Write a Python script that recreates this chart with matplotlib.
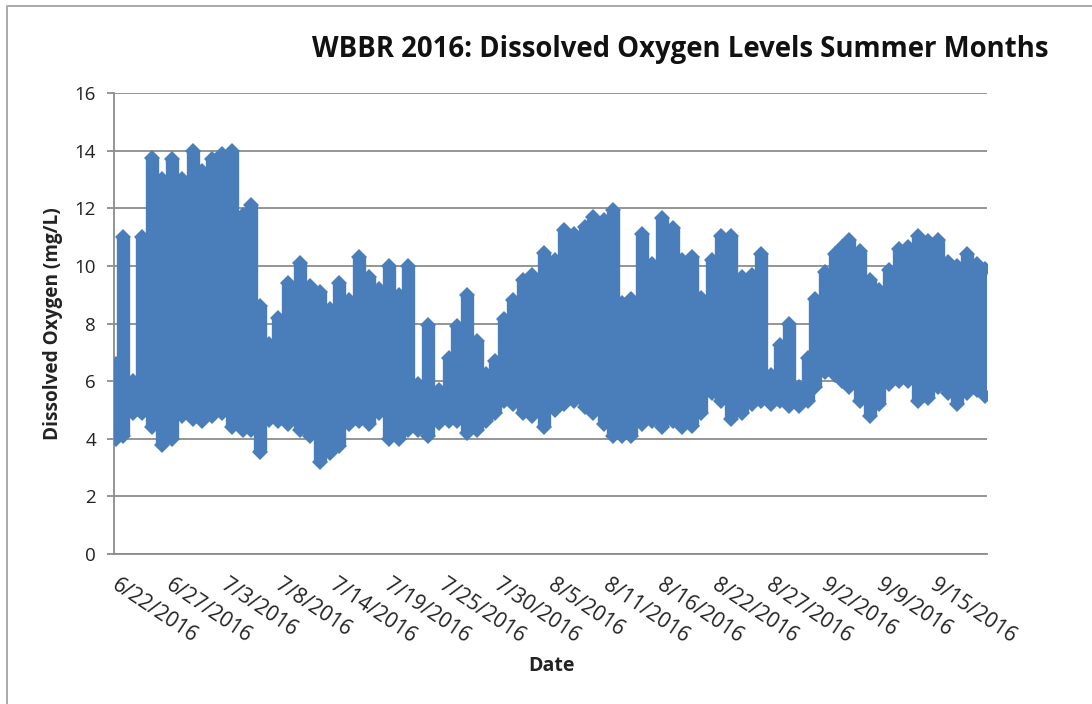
import matplotlib
matplotlib.use("Agg")
import matplotlib.pyplot as plt
from matplotlib.lines import Line2D
import numpy as np

# days since 6/22/2016, daily high and low readings (mg/L)
days = [0, 0.7, 1.7, 2.5, 3.5, 4.5, 5.5, 6.5, 7.5, 8.4, 9.4, 10.4, 11.4, 12.4, 13.2, 14.1, 15.0, 15.9, 16.9,
        18.0, 19.0, 20.0, 21.0, 21.9, 22.8, 23.8, 24.8, 25.8, 26.8, 27.7, 28.6, 29.6, 30.6, 31.7, 32.6, 33.4,
        34.4, 35.4, 36.3, 37.2, 38.0, 38.9, 39.9, 40.8, 42.0, 43.0, 43.9, 44.9, 46.0, 46.8, 47.8, 48.7, 49.6,
        50.5, 51.6, 52.6, 53.5, 54.6, 55.5, 56.5, 57.4, 58.4, 59.3, 60.3, 61.4, 62.4, 63.2, 64.2, 65.1, 66.0,
        67.0, 67.8, 68.5, 69.5, 70.5, 71.2, 71.9, 72.9, 73.9, 74.8, 75.8, 76.8, 77.7, 78.6, 79.6, 80.6, 81.6, 82.5,
        83.4, 84.4, 85.2]
high = [6.6, 11.0, 6.0, 11.0, 13.75, 13.0, 13.7, 13.0, 14.0, 13.3, 13.7, 13.9, 14.0, 11.75, 12.1, 8.6, 7.3, 8.2, 9.4,
        10.1, 9.3, 9.1, 8.5, 9.4, 8.8, 10.3, 9.6, 9.2, 10.0, 9.0, 10.0, 5.9, 7.95, 5.7, 6.8, 7.9,
        9.0, 7.4, 6.25, 6.7, 8.15, 8.8, 9.5, 9.7, 10.45, 10.2, 11.25, 11.1, 11.35, 11.7, 11.6, 11.95, 8.7,
        8.85, 11.1, 10.05, 11.65, 11.3, 10.2, 10.3, 8.9, 10.2, 11.05, 11.05, 9.6, 9.7, 10.4, 6.2, 7.25, 8.0,
        5.8, 6.8, 8.85, 9.8, 10.4, 10.65, 10.9, 10.5, 9.5, 9.15, 9.85, 10.6, 10.65, 11.05, 10.85, 10.9, 10.15, 10.0,
        10.4, 10.05, 9.9]
low = [4.0, 4.1, 4.9, 4.9, 4.4, 3.8, 4.0, 4.8, 4.7, 4.6, 4.8, 4.9, 4.4, 4.3, 4.3, 3.55, 4.65, 4.6, 4.5,
       4.3, 4.1, 3.2, 3.5, 3.75, 4.5, 4.6, 4.5, 4.9, 4.0, 4.0, 4.3, 4.3, 4.1, 4.55, 4.6, 4.6,
       4.2, 4.3, 4.6, 4.9, 5.3, 5.2, 4.9, 4.8, 4.4, 5.0, 5.2, 5.3, 5.1, 4.9, 4.5, 4.1, 4.1,
       4.1, 4.5, 4.6, 4.4, 4.6, 4.4, 4.45, 4.9, 5.6, 5.3, 4.7, 4.9, 5.2, 5.3, 5.2, 5.3, 5.15,
       5.15, 5.3, 5.8, 6.3, 6.2, 6.0, 5.8, 5.3, 4.8, 5.2, 5.9, 6.0, 6.0, 5.3, 5.4, 5.8, 5.6, 5.2,
       5.6, 5.7, 5.5]
date_labels = ['6/22/2016', '6/27/2016', '7/3/2016', '7/8/2016', '7/14/2016', '7/19/2016', '7/25/2016', '7/30/2016',
               '8/5/2016', '8/11/2016', '8/16/2016', '8/22/2016', '8/27/2016', '9/2/2016', '9/9/2016', '9/15/2016']
y_ticks = [0, 2, 4, 6, 8, 10, 12, 14, 16]

blue = '#4a7ebb'
grid = '#8c8c8c'
W, H = 1092, 704

plt.rcParams['font.family'] = ['Open Sans', 'DejaVu Sans']

fig = plt.figure(figsize=(W / 100, H / 100), dpi=100)
ax = fig.add_axes([114 / W, 1 - 554 / H, (987 - 114) / W, (554 - 93) / H])

# outer chart border
fig.add_artist(Line2D([7 / W, 7 / W, 1], [0, 1 - 6 / H, 1 - 6 / H], color='#aaaaaa', lw=1.4))

ax.set_axisbelow(True)
ax.yaxis.grid(True, color=grid, lw=1.3)
ax.vlines(days, low, high, color=blue, lw=9.6, capstyle='butt', zorder=3)
ax.plot(days, high, 'D', color=blue, ms=8.6, mew=0, zorder=3)
ax.plot(days, low, 'D', color=blue, ms=8.6, mew=0, zorder=3)

ax.set_xlim(-0.2, 85.4)
ax.set_ylim(0, 16)
ax.set_yticks(y_ticks)
ax.set_xticks(np.arange(len(date_labels)) * 5.35 + 0.35)
ax.set_xticklabels(date_labels, rotation=-34, ha='left', va='top', rotation_mode='anchor', fontsize=15, color='#222222')
ax.tick_params(axis='x', length=0, pad=15)
ax.tick_params(axis='y', length=5, width=1.3, color=grid, labelsize=13.5, pad=8, labelcolor='#222222')

for side in ['top', 'right']:
    ax.spines[side].set_visible(False)
for side in ['left', 'bottom']:
    ax.spines[side].set_color(grid)
    ax.spines[side].set_linewidth(1.3)

ax.set_ylabel('Dissolved Oxygen (mg/L)', fontsize=13.7, fontweight='bold', color='#222222', labelpad=8)
fig.text(551 / W, 1 - 666 / H, 'Date', fontsize=14, fontweight='bold', color='#222222', ha='center', va='center')
fig.text(1048 / W, 1 - 49 / H, 'WBBR 2016: Dissolved Oxygen Levels Summer Months', fontsize=19.8, fontweight='bold',
         color='#111111', ha='right', va='center')

fig.savefig('out.png', dpi=100)
